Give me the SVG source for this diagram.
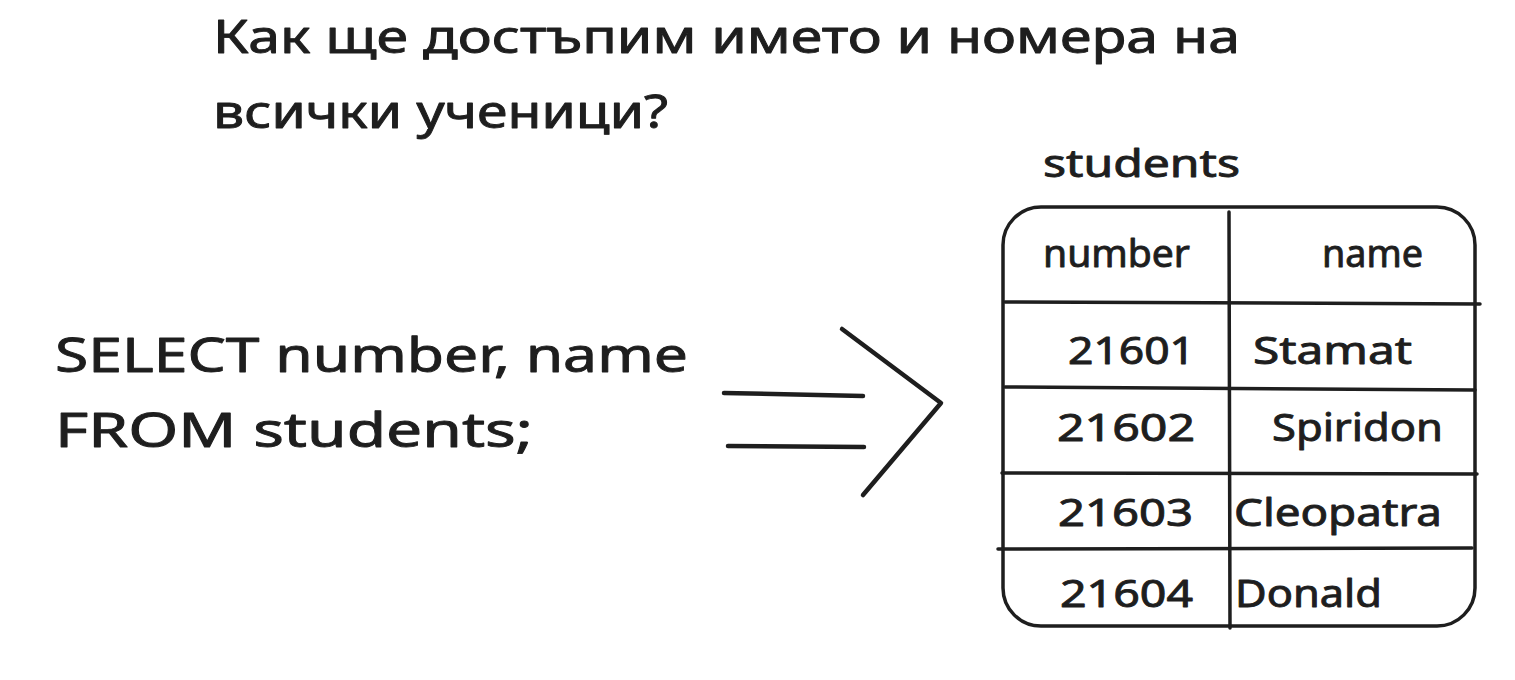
<svg xmlns="http://www.w3.org/2000/svg" width="1515" height="680" viewBox="0 0 1515 680">
  <style>
    .t { font-family: "Noto Sans", "Liberation Sans", sans-serif; fill: #1e1e1e; stroke: #1e1e1e; stroke-width: 0.9; stroke-linejoin: round; }
    .big { font-size: 48px; }
    .title { font-size: 46px; }
    .cell { font-size: 38px; }
    .ln { fill: none; stroke: #1e1e1e; stroke-width: 3.5; stroke-linecap: round; stroke-linejoin: round; }
    .arr { fill: none; stroke: #1e1e1e; stroke-width: 4.5; stroke-linecap: round; stroke-linejoin: round; }
  </style>
  <rect width="1515" height="680" fill="#ffffff"/>

  <g id="title">
    <text class="t title" x="213" y="53" textLength="1027" lengthAdjust="spacingAndGlyphs">Как ще достъпим името и номера на</text>
    <text class="t title" x="213" y="128" textLength="455" lengthAdjust="spacingAndGlyphs">всички ученици?</text>
  </g>

  <g id="query">
    <text class="t big" x="55" y="372" textLength="633" lengthAdjust="spacingAndGlyphs">SELECT number, name</text>
    <text class="t big" x="55" y="447" textLength="478" lengthAdjust="spacingAndGlyphs">FROM students;</text>
  </g>

  <g id="connectors">
    <path class="arr" d="M724 393 L863 396"/>
    <path class="arr" d="M728 446 L864 447"/>
    <path class="arr" d="M842 329 L941 403 L863 495"/>
  </g>

  <g id="students-label">
    <text class="t cell" x="1043" y="177" textLength="197" lengthAdjust="spacingAndGlyphs">students</text>
  </g>

  <g id="students-table">
    <rect class="ln" x="1003" y="207" width="472" height="419" rx="38" ry="38"/>
    <path class="ln" d="M1229 212 L1230 628"/>
    <path class="ln" d="M1005 302 L1480 304"/>
    <path class="ln" d="M1005 387 L1475 390"/>
    <path class="ln" d="M1002 473 L1477 474"/>
    <path class="ln" d="M998 549 L1472 548"/>

    <text class="t cell" x="1043" y="267" textLength="147" lengthAdjust="spacingAndGlyphs">number</text>
    <text class="t cell" x="1322" y="267" textLength="101" lengthAdjust="spacingAndGlyphs">name</text>

    <text class="t cell" x="1068" y="364" textLength="127" lengthAdjust="spacingAndGlyphs">21601</text>
    <text class="t cell" x="1253" y="364" textLength="159" lengthAdjust="spacingAndGlyphs">Stamat</text>

    <text class="t cell" x="1057" y="441" textLength="138" lengthAdjust="spacingAndGlyphs">21602</text>
    <text class="t cell" x="1272" y="441" textLength="171" lengthAdjust="spacingAndGlyphs">Spiridon</text>

    <text class="t cell" x="1058" y="526" textLength="135" lengthAdjust="spacingAndGlyphs">21603</text>
    <text class="t cell" x="1234" y="526" textLength="208" lengthAdjust="spacingAndGlyphs">Cleopatra</text>

    <text class="t cell" x="1060" y="607" textLength="133" lengthAdjust="spacingAndGlyphs">21604</text>
    <text class="t cell" x="1235" y="607" textLength="147" lengthAdjust="spacingAndGlyphs">Donald</text>
  </g>
</svg>
